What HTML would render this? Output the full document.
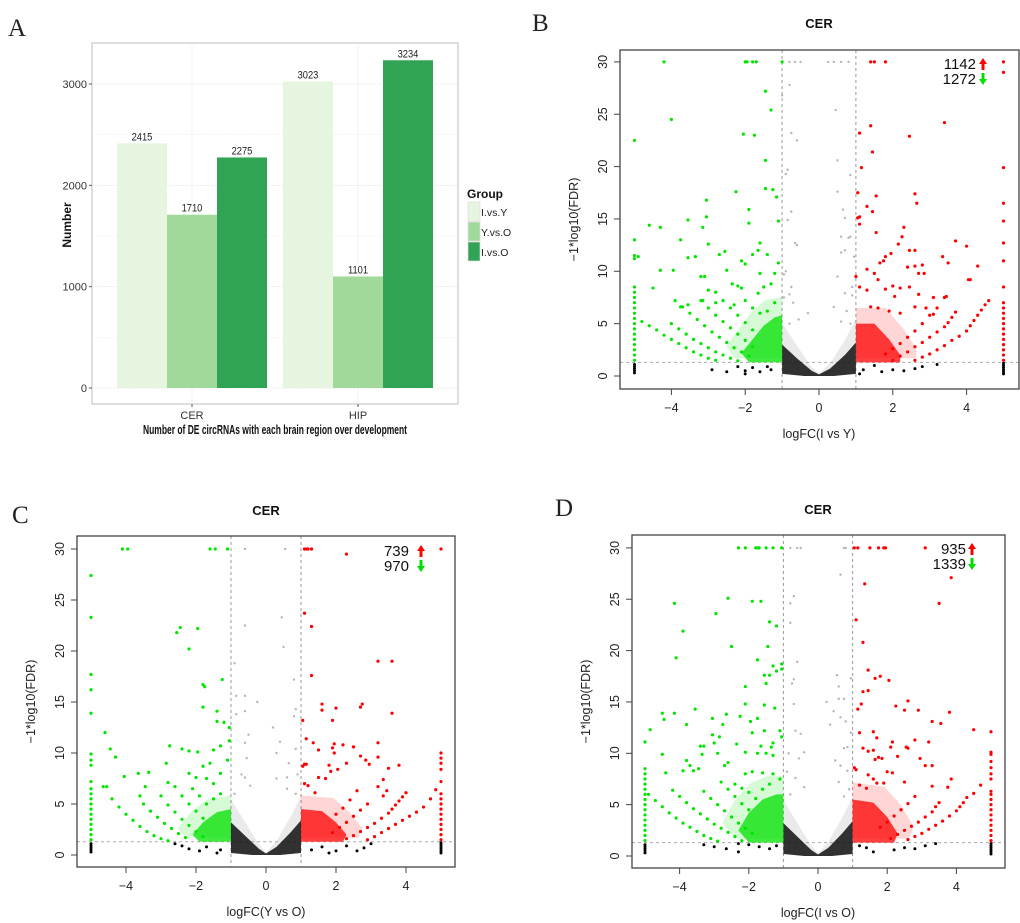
<!DOCTYPE html>
<html><head><meta charset="utf-8">
<style>
body{margin:0;background:#fff;}
svg{display:block;font-family:"Liberation Sans",Arial,sans-serif;}
</style></head>
<body>
<svg id="fig" width="1020" height="923" viewBox="0 0 1020 923" xmlns="http://www.w3.org/2000/svg"></svg>
<script>
// ===== Panel A data =====
const barCategories = ['CER', 'HIP'];
const barGroups = ['I.vs.Y', 'Y.vs.O', 'I.vs.O'];
const valsIvsY = [2415, 3023];
const valsYvsO = [1710, 1101];
const valsIvsO = [2275, 3234];
const barYTicks = [0, 1000, 2000, 3000];

// ===== Panel B data (logFC I vs Y) =====
const bGreen = [[-4.2,30],[-2,30],[-1.95,30],[-1.8,30],[-1.7,30],[-1,30],[-1.45,27.2],[-1.3,25.4],[-4,24.5],[-5,22.5],[-2.05,23.1],[-1.75,23],[-1.45,20.6],[-1.45,17.9],[-1.25,17.8],[-2.25,17.6],[-1.15,17.1],[-3.05,16.8],[-1.9,15.9],[-1.1,14.8],[-1.9,14.6],[-3.55,14.9],[-4.6,14.4],[-4.3,14.2],[-3.15,14.2],[-3.05,15.2],[-3.75,13],[-1.6,12.7],[-3,12.6],[-1.65,12],[-2.55,11.9],[-2.7,11.6],[-1.8,11.6],[-1.4,11.6],[-4.9,11.4],[-3.35,11.4],[-3.55,11.3],[-2.1,11],[-2,10.7],[-1.1,10.8],[-4.3,10.1],[-3.95,10.1],[-2.5,10.1],[-1.6,9.8],[-3.2,9.5],[-3.1,9.5],[-2.35,8.8],[-2.2,8.6],[-4.5,8.4],[-3,8.2],[-2.1,8.4],[-1.65,7.9],[-3.9,7.2],[-3.15,7.2],[-2.8,7],[-2.3,6.8],[-3.75,6.6],[-3.55,6.8],[-1.3,8.8],[-1.2,9.8],[-1.5,8.5],
[-4.8,5.2],[-4.6,4.8],[-4.4,4.4],[-4.2,3.9],[-4,3.5],[-3.8,3.1],[-3.6,2.7],[-3.4,2.3],[-3.2,2],[-3,1.7],[-2.8,1.5],
[-4,5],[-3.8,4.5],[-3.6,4],[-3.4,3.5],[-3.2,3.1],[-3,2.7],[-2.8,2.3],[-2.6,2],[-2.4,1.7],[-2.2,1.45],
[-3.7,6.6],[-3.5,6],[-3.3,5.4],[-3.1,4.8],[-2.9,4.2],[-2.7,3.7],[-2.5,3.2],[-2.3,2.7],[-2.1,2.3],[-1.9,1.9],
[-3.2,7.2],[-3,6.5],[-2.8,5.8],[-2.6,5.2],[-2.4,4.6],[-2.2,4],[-2,3.4],[-1.8,2.8],
[-2.8,8],[-2.6,7.2],[-2.4,6.5],[-2.2,5.8],[-2,5.1],[-1.8,4.4],[-2,7.2],[-1.8,6.5],[-1.6,6],[-1.4,6.2],[-1.2,7],
[-5,1.5],[-5,2],[-5,2.5],[-5,3],[-5,3.5],[-5,4],[-5,4.5],[-5,5],[-5,5.5],[-5,6],[-5,6.5],[-5,7],[-5,7.5],[-5,8],[-5,8.5],[-5,11.2],[-5,11.5],[-5,13]];
const bRed = [[1.4,30],[1.5,30],[1.8,30],[5,30],[5,29],[1.1,23.2],[1.4,23.9],[3.4,24.2],[2.45,22.9],[1.45,21.4],[1.15,19.9],[5,19.9],[1.05,17.5],[2.6,17.4],[1.55,17.2],[2.65,16.5],[5,16.5],[1.3,16.2],[1.45,15.7],[1.1,15.2],[1.05,15.1],[5,14.8],[1.1,14.5],[2.3,14.2],[2.25,13.3],[1.55,13.7],[3.7,12.9],[4,12.4],[2.15,12.6],[5,12.7],[2.45,12],[2.6,12],[1.95,11.7],[1.8,11.4],[3.35,11.4],[3.5,10.8],[5,11],[1.75,11],[1.65,10.8],[4.3,10.5],[2.6,10.5],[2.4,10.4],[1.3,10.2],[2.8,10.6],[2.7,9.8],[2.85,9.8],[1.5,9.8],[1.0,9.5],[4.05,9.2],[4.1,9.2],[1.6,9.2],[2,8.6],[1.1,8.5],[2.2,8.4],[2.45,8.5],[5,8.5],[1.3,8.2],[1.8,8.3],[2.7,7.8],[2.05,7.6],[3.1,7.5],[3.45,7.6],[1.4,6.6],[1.6,6.5],[2.6,6.6],[2.9,6.5],[3.1,5.9],[1.9,6.2],[2.2,6],
[4.6,7.2],[4.5,6.8],[4.4,6.3],[4.3,5.8],[4.2,5.3],[4.1,4.8],[4,4.3],[3.8,3.8],[3.6,3.4],[3.4,2.9],[3.2,2.5],[3,2.1],[2.8,1.8],[2.6,1.5],
[3.7,6.1],[3.6,5.6],[3.5,5.1],[3.4,4.7],[3.2,4.2],[3,3.7],[2.8,3.2],[2.6,2.8],[2.4,2.3],[2.2,1.9],[2,1.5],
[3.4,7.5],[3.2,6.5],[3,5.8],[2.8,5],[2.6,4.3],[2.4,3.7],[2.2,3.1],[2,2.6],[1.8,2.1],
[5,1.5],[5,2],[5,2.5],[5,3],[5,3.5],[5,4],[5,4.5],[5,5],[5,5.5],[5,6],[5,6.5],[5,7]];
const bGrey = [[-0.8,30],[-0.65,30],[-0.5,30],[0.25,30],[0.4,30],[0.6,30],[0.8,30],[-0.8,27.8],[0.45,25.4],[-0.75,23.2],[-0.6,22.5],[0.5,20.6],[-0.85,19.7],[-0.9,19.3],[0.85,19.2],[-1,26.8],[0.5,17.6],[-0.75,15.7],[0.65,15.9],[-0.85,14.9],[0.7,15.1],[0.6,13.3],[0.8,13.2],[0.85,13.3],[-0.65,12.7],[-0.6,12.5],[0.7,12],[0.6,11.8],[0.95,11.4],[-0.9,10],[-0.95,9.7],[0.5,9.5],[-0.75,8.5],[0.9,8.5],[-0.8,7.8],[-0.95,7.5],[0.7,7.9],[0.9,7.7],[-0.7,7],[-0.3,6],[0.4,6.6],[0.75,6.2],[-0.55,5.4],[0.6,5.2],[-0.8,5],[0.85,5]];
const bBlack = [[-5,1.1],[-5,0.9],[-5,0.7],[-5,0.5],[-5,0.3],[5,1.2],[5,1],[5,0.8],[5,0.6],[5,0.4],[5,0.2],[-2.9,0.6],[-2.5,0.4],[-2.2,0.9],[-2,0.5],[-2,0.2],[-1.8,0.8],[-1.6,0.4],[-1.4,0.9],[-1.3,0.6],[1.2,0.6],[1.5,1],[1.7,0.4],[2,0.6],[2.3,0.5],[2.6,0.7],[2.8,0.9],[3.2,1.1],[1.1,0.2]];

// ===== Panel C data (logFC Y vs O) =====
const cGreen = [[-4.1,30],[-3.95,30],[-1.6,30],[-1.45,30],[-1.1,30],[-5,27.4],[-5,23.3],[-5,17.7],[-5,16.2],[-5,13.9],[-5,9.9],[-5,9.3],[-5,8.8],[-4.6,12],[-4.45,10.4],[-4.3,9.6],[-4.05,7.7],[-3.65,8],[-3.35,8.1],[-2.85,9],[-2.75,10.7],[-2.55,21.8],[-2.45,22.3],[-1.95,22.2],[-2.2,20.2],[-1.8,16.7],[-1.75,16.5],[-1.25,17.2],[-1.8,14.5],[-1.4,14.1],[-1.4,13.1],[-1.2,13],[-1.05,12.5],[-1.05,11.2],[-1.3,10.7],[-1.5,10.3],[-2.4,10.4],[-2.2,10.2],[-1.95,10.1],[-4.65,6.7],[-4.55,6.7],[-3.6,5.8],[-3.45,6.7],[-2.8,7.1],[-2.2,8],[-2,7.6],[-1.8,8.7],[-1.6,9],[-1.3,8],[-1.1,9.3],[-1.5,7],[-1.7,7.5],
[-4.4,5.5],[-4.2,4.7],[-4,4],[-3.8,3.4],[-3.6,2.8],[-3.4,2.3],[-3.2,1.9],[-3,1.6],[-2.8,1.4],
[-3.5,5],[-3.3,4.3],[-3.1,3.7],[-2.9,3.1],[-2.7,2.6],[-2.5,2.1],[-2.3,1.7],
[-3,5.8],[-2.8,4.9],[-2.6,4.2],[-2.4,3.5],[-2.2,2.9],[-2,2.3],[-1.8,1.8],
[-2.6,6.7],[-2.4,5.8],[-2.2,5],[-2,4.3],[-1.8,3.6],[-2.1,6.5],[-1.9,5.8],[-1.7,5],[-1.5,5.5],[-1.3,6],
[-5,1.5],[-5,2],[-5,2.5],[-5,3],[-5,3.5],[-5,4],[-5,4.5],[-5,5],[-5,5.5],[-5,6],[-5,6.5],[-5,7.2]];
const cRed = [[1.1,30],[1.15,30],[1.2,30],[1.3,30],[5,30],[2.3,29.5],[1.1,23.7],[1.3,22.4],[1.3,17.6],[3.2,19],[3.6,19],[1.6,14.8],[1.6,14.2],[2,14.4],[2.7,14.5],[2.75,14.8],[1.9,13.2],[3.6,13.9],[1.05,13.2],[1.15,11.4],[1.35,11],[3.2,11],[1.5,10.3],[1.9,10.5],[1.95,10.9],[2.2,10.8],[2.5,10.6],[1.95,10],[2.7,9.7],[3.2,9.6],[2.85,9.3],[2.95,8.9],[3.5,8.5],[3.8,8.8],[2.3,9],[1.1,8.9],[1.15,8.9],[1.05,8.7],[1.8,8.8],[1.85,8.2],[2.05,8.4],[3.35,7.4],[1.5,7.6],[1.7,7.5],[3.2,6.7],[3.45,6.3],[3.35,5.8],[4.85,6.4],[4.7,5.5],[1.1,7],[1.2,6.8],[1.4,6.1],
[4,6.1],[3.9,5.7],[3.8,5.3],[3.7,4.9],[3.6,4.5],[3.5,4.1],[3.3,3.6],[3.1,3.1],[2.9,2.7],[2.7,2.3],[2.5,1.9],[2.3,1.6],
[4.5,4.7],[4.3,4.2],[4.1,3.8],[3.9,3.4],[3.7,3],[3.5,2.6],[3.3,2.2],[3.1,1.8],[2.9,1.5],
[2.9,5],[2.7,4.4],[2.5,3.8],[2.3,3.2],[2.1,2.7],[1.9,2.2],[2.6,6.3],[2.4,5.4],[2.2,4.6],[2,4],
[5,1.5],[5,2],[5,2.5],[5,3],[5,3.5],[5,4],[5,4.5],[5,5],[5,5.5],[5,6],[5,7.2],[5,8.4],[5,9],[5,9.5],[5,10]];
const cGrey = [[-0.6,30],[0.55,30],[0.45,23.3],[-0.6,22.5],[0.5,20.4],[-0.9,18.8],[0.8,17.2],[-0.85,15.6],[-0.6,15.6],[-0.25,15],[0.85,14.3],[0.8,13.6],[-0.85,13.8],[-0.6,14.1],[0.2,12.5],[-0.5,11.8],[-0.6,11],[0.4,11.1],[0.85,10.4],[0.3,10],[-0.55,9.5],[0.65,9],[-0.7,7.9],[-0.6,7.6],[0.6,7.6],[0.9,7.9],[-0.45,6.8],[0.3,7.5],[0.6,6.5],[-0.9,6],[0.85,6]];
const cBlack = [[-5,1.1],[-5,0.9],[-5,0.7],[-5,0.5],[-5,0.3],[5,1.2],[5,1],[5,0.8],[5,0.6],[5,0.4],[5,0.2],[-2.6,1.1],[-2.4,0.9],[-2.2,0.6],[-1.9,0.4],[-1.7,0.8],[-1.4,0.2],[-1.3,0.5],[1.3,0.5],[1.6,0.8],[1.8,0.2],[2,0.4],[2.3,0.9],[2.6,0.4],[2.8,0.7],[3,1.1]];

// ===== Panel D data (logFC I vs O) =====
const dGreen = [[-2.3,30],[-2.1,30],[-1.8,30],[-1.75,30],[-1.7,30],[-1.5,30],[-1.3,30],[-1.05,30],[-4.15,24.6],[-2.6,25.1],[-1.9,24.8],[-1.65,24.8],[-2.95,23.6],[-1.4,22.8],[-1.2,22.4],[-3.9,21.9],[-2.5,20.4],[-1.45,20.4],[-4.1,19.3],[-1.75,19.1],[-1.05,18.7],[-1.05,18.2],[-1.3,18.5],[-1.2,18],[-1.55,17.6],[-1.4,17.6],[-1.5,16.8],[-2.1,16.5],[-2.1,14.8],[-1.55,14.7],[-1.25,14.4],[-4.5,13.9],[-4.15,13.9],[-3.55,14.3],[-4.45,13.3],[-2.65,13.8],[-3.05,13.4],[-2.25,13.6],[-1.95,13.1],[-1.75,13.4],[-4.85,12.3],[-3.8,12.8],[-2.75,12.8],[-1.55,12.2],[-1.1,12.2],[-1.05,11.6],[-5,11.1],[-3.05,11.8],[-2.85,11.6],[-3.0,11],[-1.9,12],[-3.4,10.7],[-3.3,10.7],[-2.35,10.9],[-1.65,10.7],[-1.3,11],[-1.35,10.6],[-4.5,9.9],[-3.8,9.3],[-2.9,10],[-3.35,9.9],[-2.1,10.1],[-1.75,10],[-1.5,10],[-1.3,9.8],[-3.7,8.8],[-2.6,9.1],[-2.7,8.8],[-3.6,8.3],[-3.45,8.5],[-4.4,8.1],[-3.9,8.3],[-2.1,8],[-1.9,8.2],[-1.6,8.1],[-1.3,8],[-1.1,7.5],
[-4.9,6],[-4.7,5.4],[-4.5,4.8],[-4.3,4.2],[-4.1,3.7],[-3.9,3.2],[-3.7,2.8],[-3.5,2.4],[-3.3,2],[-3.1,1.7],[-2.9,1.45],
[-4.2,6.4],[-4,5.8],[-3.8,5.2],[-3.6,4.6],[-3.4,4.1],[-3.2,3.6],[-3,3.1],[-2.8,2.7],[-2.6,2.3],[-2.4,1.9],[-2.2,1.5],
[-3.3,6.3],[-3.1,5.6],[-2.9,5],[-2.7,4.4],[-2.5,3.8],[-2.3,3.2],[-2.1,2.7],[-1.9,2.2],
[-2.8,7.2],[-2.6,6.5],[-2.4,5.8],[-2.2,5.1],[-2,4.5],[-2.4,7],[-2.2,6.6],[-2,6.2],[-1.8,5.6],[-1.6,6.5],[-1.4,7],
[-5,1.5],[-5,2],[-5,2.5],[-5,3],[-5,3.5],[-5,4],[-5,4.5],[-5,5],[-5,5.5],[-5,6],[-5,6.5],[-5,7],[-5,7.5],[-5,8],[-5,8.5]];
const dRed = [[1.05,30],[1.15,30],[1.5,30],[1.75,30],[1.9,30],[1.95,30],[3.1,30],[3.85,27.1],[1.35,26.5],[3.5,24.6],[1.1,23],[1.3,20.8],[1.45,18.1],[1.65,17.3],[1.8,17.5],[2.05,17.1],[1.3,16],[1.45,16.1],[2.6,15.1],[2.25,14.6],[2.5,14.2],[2.9,14.2],[3.8,14],[1.15,14.3],[1.25,14.8],[3.3,13.1],[3.55,12.9],[4.5,12.3],[5,12.1],[1.2,12],[1.6,12.1],[1.7,11.5],[2.15,11.1],[2.8,11.3],[3.2,11.1],[1.3,10.5],[1.6,10.3],[2.1,10.6],[2.55,10.6],[2.6,10.5],[5,10.1],[5,9.9],[1.45,10.2],[2.3,9.7],[1.75,9.6],[1.65,9.4],[1.85,9.5],[2.95,9.5],[3.1,8.8],[3.3,8.8],[1.05,8.6],[1.1,8.4],[2,8.2],[2.15,8.1],[1.45,7.9],[3.85,7.5],[2.5,7.2],[3.75,6.7],[4.7,6.9],[3.3,6.8],[1.6,7.5],[1.7,7.1],[1.9,7.1],[1.2,6.9],[1.4,6.6],
[4.5,6.1],[4.3,5.7],[4.2,5.2],[4.1,4.8],[4,4.4],[3.8,3.9],[3.6,3.4],[3.4,3],[3.2,2.6],[3,2.2],[2.8,1.9],[2.6,1.6],
[3.5,5.2],[3.4,4.8],[3.3,4.3],[3.1,3.8],[2.9,3.3],[2.7,2.9],[2.5,2.5],[2.3,2.1],[2.1,1.7],
[2.8,5.8],[2.6,5.1],[2.4,4.5],[2.2,3.9],[2,3.3],[1.8,2.8],
[5,1.5],[5,2],[5,2.5],[5,3],[5,3.5],[5,4],[5,4.5],[5,5],[5,5.5],[5,6],[5,6.3],[5,7.5],[5,8],[5,8.6],[5,9.2]];
const dGrey = [[-0.8,30],[-0.6,30],[-0.5,30],[0.75,30],[0.8,30],[0.65,27.4],[-0.7,25.3],[-0.8,24.6],[-0.8,22.7],[-0.6,18.9],[0.55,17.6],[0.95,17.3],[-0.7,17.2],[-0.75,16.8],[0.6,16.5],[0.6,15.3],[0.75,15.3],[-0.7,14.8],[0.25,15],[0.45,14.1],[0.65,13.5],[0.8,13.1],[0.35,12.8],[-0.65,12.2],[-0.5,11.9],[0.95,12],[0.75,10.5],[0.85,10.6],[-0.4,10.1],[-0.85,10],[-0.55,9.5],[0.5,9.3],[0.65,8.8],[0.85,8.3],[-0.9,8.2],[-0.65,7.6],[0.6,7.2],[-0.4,6.7],[0.9,6.5],[-0.8,6],[0.75,5.8]];
const dBlack = [[-5,1.1],[-5,0.9],[-5,0.7],[-5,0.5],[-5,0.3],[5,1.2],[5,1],[5,0.8],[5,0.6],[5,0.4],[5,0.2],[-3.3,1.1],[-3,0.9],[-2.65,0.7],[-2.3,1.2],[-2.3,0.4],[-2,1.1],[-1.7,0.9],[-1.4,0.7],[-1.2,1],[1.2,1],[1.4,0.8],[1.6,0.4],[2.2,0.6],[2.5,0.8],[2.8,0.7],[3.1,1],[3.4,1.2]];

// dense-cloud outlines (data coords) per panel
const bGreenCloud = [[-1,1.3],[-1.9,1.3],[-2.1,2.2],[-1.8,3.5],[-1.5,4.8],[-1.2,5.6],[-1,5.8]];
const bRedCloud = [[1,1.3],[1,5],[1.5,5],[1.9,3.5],[2.2,2],[2.2,1.3]];
const bBlackCloud = [[-1,0.2],[-1,3],[-0.6,1.7],[-0.2,0.5],[0,0.15],[0.3,0.7],[0.7,2],[1,3.2],[1,0.2],[0.4,0],[-0.4,0]];
const cGreenCloud = [[-1,1.3],[-1.9,1.3],[-2.1,2],[-1.8,3.2],[-1.4,4.2],[-1,4.5]];
const cRedCloud = [[1,1.3],[1,4.5],[1.6,4.3],[2,3.2],[2.3,2],[2.2,1.3]];
const cBlackCloud = [[-1,0.2],[-1,3.2],[-0.6,1.9],[-0.2,0.6],[0,0.15],[0.3,0.8],[0.7,2.2],[1,3.4],[1,0.2],[0.4,0],[-0.4,0]];
const dGreenCloud = [[-1,1.3],[-2,1.3],[-2.3,2.5],[-2,4.2],[-1.6,5.5],[-1.2,6],[-1,6]];
const dRedCloud = [[1,1.3],[1,5.5],[1.6,5.2],[2,3.8],[2.3,2.2],[2.2,1.3]];
const dBlackCloud = [[-1,0.2],[-1,3.2],[-0.6,1.9],[-0.2,0.6],[0,0.15],[0.3,0.8],[0.7,2.2],[1,3.4],[1,0.2],[0.4,0],[-0.4,0]];

const volcXTicks = [-4, -2, 0, 2, 4];
const volcYTicks = [0, 5, 10, 15, 20, 25, 30];

const NS = 'http://www.w3.org/2000/svg';
const svg = document.getElementById('fig');
function mk(tag, attrs, parent, text) {
  const e = document.createElementNS(NS, tag);
  for (const k in attrs) e.setAttribute(k, attrs[k]);
  if (text !== undefined) e.textContent = text;
  (parent || svg).appendChild(e);
  return e;
}

// ===== Panel A =====
(function(){
  const g = mk('g', {});
  
  
  const L = 92, R = 458, T = 43, B = 404;
  const y0 = 388, pxPer = (388 - 84) / 3000;
  const ys = v => y0 - v * pxPer;
  const lab = mk('text', {x: 8, y: 36, 'font-family': 'Liberation Serif,serif', 'font-size': 25, fill: '#222'}, g, 'A');
  
  
  const bg = mk('rect', {x: L, y: T, width: R - L, height: B - T, fill: '#fff', stroke: '#bdbdbd', 'stroke-width': 1}, g);
  
  
  for (let v = 0; v <= 3000; v += 500) {
    const gl = mk('line', {x1: L, x2: R, y1: ys(v), y2: ys(v), stroke: '#ececec', 'stroke-width': v % 1000 === 0 ? 1 : 0.6, 'stroke-dasharray': '2,1'}, g);
    
    
  }
  const groupW = 150, barW = 50;
  const centers = [192, 358];
  centers.forEach(cx => {
    const gl = mk('line', {x1: cx, x2: cx, y1: T, y2: B, stroke: '#ececec', 'stroke-dasharray': '2,1'}, g);
    
    
  });
  const series = [valsIvsY, valsYvsO, valsIvsO];
  const cols = ['#e5f5e0', '#a1d99b', '#31a354'];
  barCategories.forEach((cat, ci) => {
    series.forEach((vals, si) => {
      const x = centers[ci] - groupW / 2 + si * barW;
      const r = mk('rect', {x: x, y: ys(vals[ci]), width: barW, height: y0 - ys(vals[ci]), fill: cols[si]}, g);
      
      
      const t = mk('text', {x: x + barW / 2, y: ys(vals[ci]) - 3, 'text-anchor': 'middle', 'font-size': 11, fill: '#222', transform: `translate(${x + barW/2},0) scale(0.85,1) translate(${-(x + barW/2)},0)`}, g, String(vals[ci]));
      
      
    });
    const xt = mk('text', {x: centers[ci], y: 419, 'text-anchor': 'middle', 'font-size': 11, fill: '#333'}, g, cat);
    
    
    mk('line', {x1: centers[ci], x2: centers[ci], y1: B, y2: B + 3, stroke: '#555'}, g);
  });
  barYTicks.forEach(v => {
    const t = mk('text', {x: 87, y: ys(v) + 4, 'text-anchor': 'end', 'font-size': 11, fill: '#333'}, g, String(v));
    
    
    mk('line', {x1: L - 3, x2: L, y1: ys(v), y2: ys(v), stroke: '#555'}, g);
  });
  const yt = mk('text', {x: 0, y: 0, transform: 'translate(71,225) rotate(-90)', 'text-anchor': 'middle', 'font-size': 12, 'font-weight': 'bold', fill: '#111'}, g, 'Number');
  
  
  const xtt = mk('text', {x: 275, y: 434, 'text-anchor': 'middle', 'font-size': 12.5, 'font-weight': 'bold', fill: '#111', textLength: 264, lengthAdjust: 'spacingAndGlyphs'}, g, 'Number of DE circRNAs with each brain region over development');
  
  
  const lg = mk('g', {}, g);
  
  
  mk('text', {x: 467, y: 198, 'font-size': 12, 'font-weight': 'bold', fill: '#111'}, lg, 'Group');
  barGroups.forEach((gname, i) => {
    const e = mk('g', {}, lg);
    
    
    mk('rect', {x: 468, y: 202 + i * 20, width: 12, height: 19, fill: cols[i], stroke: '#ddd', 'stroke-width': 0.7}, e);
    mk('text', {x: 481, y: 216 + i * 20, 'font-size': 10.5, fill: '#222'}, e, gname);
  });
})();

// ===== Volcano plots =====
function volcano(cfg) {
  const g = mk('g', {});
  
  
  const xs = v => cfg.x0 + v * cfg.xu;
  const ys = v => cfg.y0 - v * cfg.yu;
  const lab = mk('text', {x: cfg.labX, y: cfg.labY, 'font-family': 'Liberation Serif,serif', 'font-size': 25, fill: '#222'}, g, cfg.label);
  
  
  const ti = mk('text', {x: cfg.x0, y: cfg.titleY, 'text-anchor': 'middle', 'font-size': 13, 'font-weight': 'bold', fill: '#111'}, g, 'CER');
  
  
  const clip = 'clip' + cfg.label;
  const cp = mk('clipPath', {id: clip}, g);
  mk('rect', {x: cfg.L, y: cfg.T, width: cfg.R - cfg.L, height: cfg.B - cfg.T}, cp);
  const pg = mk('g', {'clip-path': 'url(#' + clip + ')'}, g);
  [-1, 1].forEach(v => {
    const l = mk('line', {x1: xs(v), x2: xs(v), y1: cfg.T, y2: cfg.B, stroke: '#999', 'stroke-dasharray': '3,3', 'stroke-width': 1}, pg);
    
    
  });
  const hl = mk('line', {x1: cfg.L, x2: cfg.R, y1: ys(1.3), y2: ys(1.3), stroke: '#aaa', 'stroke-dasharray': '3,3', 'stroke-width': 1}, pg);
  
  
  const poly = (pts, fill, op, name) => {
    const p = mk('polygon', {points: pts.map(q => xs(q[0]) + ',' + ys(q[1])).join(' '), fill: fill, 'fill-opacity': op}, pg);
    
    
  };
  poly(cfg.blackCloud.map(q => [q[0], q[1] * 1.7]), '#8a8a8a', 0.18, 'nonsig-cloud-halo');
  poly(cfg.blackCloud, '#111', 0.85, 'nonsig-dense-cloud');
  poly(cfg.greenCloud.map(q => [q[0] < -1.01 ? q[0] * 1.2 : q[0], q[1] * 1.3]), '#00dd00', 0.16, 'down-cloud-halo');
  poly(cfg.greenCloud, '#00e000', 0.75, 'down-dense-cloud');
  poly(cfg.redCloud.map(q => [q[0] > 1.01 ? q[0] * 1.2 : q[0], q[1] * 1.3]), '#ff0000', 0.16, 'up-cloud-halo');
  poly(cfg.redCloud, '#ff0000', 0.75, 'up-dense-cloud');
  const dots = (arr, col, r, name) => arr.forEach(p => {
    const c = mk('circle', {cx: xs(p[0]), cy: ys(p[1]), r: r, fill: col}, pg);
    
    
  });
  dots(cfg.grey, '#b5b5b5', 1.2, 'nonsig-point');
  dots(cfg.black, '#000', 1.5, 'nonsig-point');
  dots(cfg.green, '#00e600', 1.6, 'down-point');
  dots(cfg.red, '#ff0000', 1.6, 'up-point');
  const fr = mk('rect', {x: cfg.L, y: cfg.T, width: cfg.R - cfg.L, height: cfg.B - cfg.T, fill: 'none', stroke: '#444', 'stroke-width': 1.3}, g);
  
  
  volcXTicks.forEach(v => {
    mk('line', {x1: xs(v), x2: xs(v), y1: cfg.B, y2: cfg.B + 6, stroke: '#444'}, g);
    const t = mk('text', {x: xs(v), y: cfg.B + 23, 'text-anchor': 'middle', 'font-size': 12.5, fill: '#222'}, g, v < 0 ? '\u2212' + Math.abs(v) : String(v));
    
    
  });
  volcYTicks.forEach(v => {
    mk('line', {x1: cfg.L - 6, x2: cfg.L, y1: ys(v), y2: ys(v), stroke: '#444'}, g);
    const t = mk('text', {x: 0, y: 0, transform: 'translate(' + (cfg.L - 13) + ',' + ys(v) + ') rotate(-90)', 'text-anchor': 'middle', 'font-size': 12.5, fill: '#222'}, g, String(v));
    
    
  });
  const xt = mk('text', {x: cfg.x0, y: cfg.B + 49, 'text-anchor': 'middle', 'font-size': 12.5, fill: '#222'}, g, cfg.xTitle);
  
  
  const yt = mk('text', {x: 0, y: 0, transform: 'translate(' + (cfg.L - 42) + ',' + ((cfg.T + cfg.B) / 2) + ') rotate(-90)', 'text-anchor': 'middle', 'font-size': 12.5, fill: '#222'}, g, '\u22121*log10(FDR)');
  
  
  const lg = mk('g', {}, g);
  
  
  mk('text', {x: cfg.legX, y: cfg.legY, 'text-anchor': 'end', 'font-size': 15, fill: '#111'}, lg, cfg.up);
  mk('text', {x: cfg.legX, y: cfg.legY + 15, 'text-anchor': 'end', 'font-size': 15, fill: '#111'}, lg, cfg.down);
  const ax = cfg.arrX, ay = cfg.legY;
  mk('path', {d: `M${ax} ${ay-11} L${ax-4} ${ay-5} L${ax-1.5} ${ay-5} L${ax-1.5} ${ay+1} L${ax+1.5} ${ay+1} L${ax+1.5} ${ay-5} L${ax+4} ${ay-5} Z`, fill: '#ff0000'}, lg);
  const by = ay + 15;
  mk('path', {d: `M${ax} ${by+1} L${ax-4} ${by-5} L${ax-1.5} ${by-5} L${ax-1.5} ${by-11} L${ax+1.5} ${by-11} L${ax+1.5} ${by-5} L${ax+4} ${by-5} Z`, fill: '#00dd00'}, lg);
}

volcano({name: 'panel-b-volcano', label: 'B', labX: 532, labY: 31, titleY: 28, L: 620, R: 1019, T: 50, B: 389, x0: 819, xu: 36.9, y0: 376, yu: 10.47,
  xTitle: 'logFC(I vs Y)', up: '1142', down: '1272', legX: 976, legY: 69, arrX: 983,
  green: bGreen, red: bRed, grey: bGrey, black: bBlack, greenCloud: bGreenCloud, redCloud: bRedCloud, blackCloud: bBlackCloud});
volcano({name: 'panel-c-volcano', label: 'C', labX: 12, labY: 523, titleY: 515, L: 77, R: 455, T: 536, B: 867, x0: 266, xu: 35, y0: 855, yu: 10.2,
  xTitle: 'logFC(Y vs O)', up: '739', down: '970', legX: 409, legY: 556, arrX: 421,
  green: cGreen, red: cRed, grey: cGrey, black: cBlack, greenCloud: cGreenCloud, redCloud: cRedCloud, blackCloud: cBlackCloud});
volcano({name: 'panel-d-volcano', label: 'D', labX: 555, labY: 516, titleY: 514, L: 632, R: 1005, T: 535, B: 868, x0: 818, xu: 34.6, y0: 856, yu: 10.27,
  xTitle: 'logFC(I vs O)', up: '935', down: '1339', legX: 966, legY: 554, arrX: 972,
  green: dGreen, red: dRed, grey: dGrey, black: dBlack, greenCloud: dGreenCloud, redCloud: dRedCloud, blackCloud: dBlackCloud});
</script>
</body></html>
